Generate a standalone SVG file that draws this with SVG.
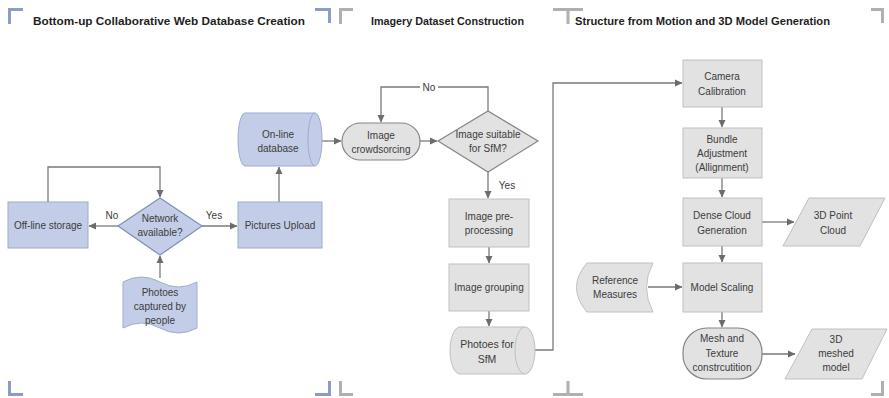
<svg xmlns="http://www.w3.org/2000/svg" width="889" height="398" viewBox="0 0 889 398">
<style>
.t{font-family:"Liberation Sans",Arial,sans-serif;font-size:10px;fill:#3c3c3c;text-anchor:middle}
.h{font-family:"Liberation Sans",Arial,sans-serif;font-size:10.5px;font-weight:bold;fill:#1e1e1e}
.blue{fill:#c3cde7;stroke:#9eabd0;stroke-width:1}
.bluek{fill:#c3cde7;stroke:#7f8fb8;stroke-width:1.2}
.grey{fill:#e2e2e2;stroke:#c0c0c0;stroke-width:1}
.greyk{fill:#e2e2e2;stroke:#858585;stroke-width:1.2}
.c{fill:none;stroke:#7a7a7a;stroke-width:1.3}
.bb{fill:none;stroke:#8c9cc4;stroke-width:3}
.bg{fill:none;stroke:#b0b0b0;stroke-width:3}
</style>
<defs>
<marker id="ah" markerWidth="8" markerHeight="8" refX="7" refY="4" orient="auto" markerUnits="userSpaceOnUse">
<path d="M0,0.5 L7.5,4 L0,7.5 Z" fill="#6c6c6c"/>
</marker>
</defs>
<rect width="889" height="398" fill="#ffffff"/>

<g id="frame">
<path class="bb" d="M9.5,24 V9.5 H23"/>
<path class="bb" d="M315,9.5 H329.5 V23"/>
<path class="bg" d="M340.5,24 V9.5 H353"/>
<path class="bg" d="M553,9.5 H583 M568,9.5 V24"/>
<path class="bg" d="M871,9.5 H882.5 V23"/>
<path class="bb" d="M9.5,381 V394.5 H23"/>
<path class="bb" d="M315,394.5 H329.5 V381"/>
<path class="bg" d="M340.5,381 V394.5 H353"/>
<path class="bg" d="M553,394.5 H583 M568,394.5 V381"/>
<path class="bg" d="M871,394.5 H882.5 V381"/>
<text class="h" x="33" y="25" textLength="272" lengthAdjust="spacingAndGlyphs">Bottom-up Collaborative Web Database Creation</text>
<text class="h" x="371" y="25" textLength="153" lengthAdjust="spacingAndGlyphs">Imagery Dataset Construction</text>
<text class="h" x="575" y="25" textLength="255" lengthAdjust="spacingAndGlyphs">Structure from Motion and 3D Model Generation</text>
</g>

<g id="connectors">
<path class="c" d="M48,202 V167 H160 V197" marker-end="url(#ah)"/>
<path class="c" d="M118,226 H89" marker-end="url(#ah)"/>
<path class="c" d="M202,226 H237" marker-end="url(#ah)"/>
<path class="c" d="M160,278 V256" marker-end="url(#ah)"/>
<path class="c" d="M279,202 V167" marker-end="url(#ah)"/>
<path class="c" d="M322,141 H341" marker-end="url(#ah)"/>
<path class="c" d="M420,141 H437" marker-end="url(#ah)"/>
<path class="c" d="M488,111 V87 H381 V122" marker-end="url(#ah)"/>
<path class="c" d="M488,172 V198" marker-end="url(#ah)"/>
<path class="c" d="M489,247 V263" marker-end="url(#ah)"/>
<path class="c" d="M489,311 V326" marker-end="url(#ah)"/>
<path class="c" d="M528,350 H553 V83 H682" marker-end="url(#ah)"/>
<path class="c" d="M722,107 V127" marker-end="url(#ah)"/>
<path class="c" d="M722,178 V197" marker-end="url(#ah)"/>
<path class="c" d="M762,222 H794" marker-end="url(#ah)"/>
<path class="c" d="M722,246 V262" marker-end="url(#ah)"/>
<path class="c" d="M648,287 H682" marker-end="url(#ah)"/>
<path class="c" d="M722,312 V327" marker-end="url(#ah)"/>
<path class="c" d="M762,354 H795" marker-end="url(#ah)"/>
<rect x="420" y="81" width="18" height="12" fill="#ffffff"/>
<text class="t" x="429" y="91">No</text>
<text class="t" x="112" y="219">No</text>
<text class="t" x="214" y="219">Yes</text>
<text class="t" x="507" y="189">Yes</text>
</g>

<g id="offline-storage">
<rect class="blue" x="8" y="202" width="80" height="46"/>
<text class="t" x="48" y="229">Off-line storage</text>
</g>
<g id="network-available">
<polygon class="bluek" points="118,226 160,198 202,226 160,255"/>
<text class="t" x="160" y="222">Network</text>
<text class="t" x="160" y="236">available?</text>
</g>
<g id="pictures-upload">
<rect class="blue" x="238" y="202" width="84" height="46"/>
<text class="t" x="280" y="229">Pictures Upload</text>
</g>
<g id="photoes-captured">
<path class="blue" d="M123,282 Q141.5,272 160,282 T197,282 L197,328 Q178.5,338 160,328 T123,328 Z"/>
<text class="t" x="160" y="296">Photoes</text>
<text class="t" x="160" y="310">captured by</text>
<text class="t" x="160" y="324">people</text>
</g>
<g id="online-database">
<path class="blue" d="M245,113 H315 A7,26.5 0 0 1 315,166 H245 A7,26.5 0 0 1 245,113 Z"/>
<path class="blue" fill="none" d="M315,113 A7,26.5 0 0 0 315,166"/>
<text class="t" x="278" y="138">On-line</text>
<text class="t" x="278" y="152">database</text>
</g>
<g id="image-crowdsorcing">
<rect class="greyk" x="342" y="123" width="78" height="37" rx="18.5" ry="18.5"/>
<text class="t" x="381" y="139">Image</text>
<text class="t" x="381" y="153">crowdsorcing</text>
</g>
<g id="image-suitable">
<polygon class="greyk" points="438,141 488,111 538,141 488,172"/>
<text class="t" x="488" y="138">Image suitable</text>
<text class="t" x="488" y="152">for SfM?</text>
</g>
<g id="image-preprocessing">
<rect class="grey" x="449" y="199" width="80" height="48"/>
<text class="t" x="489" y="220">Image pre-</text>
<text class="t" x="489" y="234">processing</text>
</g>
<g id="image-grouping">
<rect class="grey" x="449" y="264" width="80" height="47"/>
<text class="t" x="489" y="291">Image grouping</text>
</g>
<g id="photoes-for-sfm">
<path class="grey" d="M460,327 H525 A10,23.5 0 0 1 525,374 H460 A10,23.5 0 0 1 460,327 Z"/>
<path class="grey" fill="none" d="M525,327 A10,23.5 0 0 0 525,374"/>
<text class="t" x="487" y="348" style="font-size:10.5px">Photoes for</text>
<text class="t" x="487" y="363" style="font-size:10.5px">SfM</text>
</g>
<g id="camera-calibration">
<rect class="grey" x="683" y="60" width="79" height="47"/>
<text class="t" x="722" y="80">Camera</text>
<text class="t" x="722" y="95">Calibration</text>
</g>
<g id="bundle-adjustment">
<rect class="grey" x="683" y="128" width="79" height="50"/>
<text class="t" x="722" y="143">Bundle</text>
<text class="t" x="722" y="157">Adjustment</text>
<text class="t" x="722" y="171">(Allignment)</text>
</g>
<g id="dense-cloud">
<rect class="grey" x="683" y="198" width="79" height="48"/>
<text class="t" x="722" y="219">Dense Cloud</text>
<text class="t" x="722" y="234">Generation</text>
</g>
<g id="point-cloud">
<polygon class="grey" points="809,198 885,198 860,246 783,246"/>
<text class="t" x="833" y="219">3D Point</text>
<text class="t" x="833" y="234">Cloud</text>
</g>
<g id="reference-measures">
<path class="grey" d="M587,263 H653 Q640,287.5 653,312 H587 Q566,287.5 587,263 Z"/>
<text class="t" x="615" y="284">Reference</text>
<text class="t" x="615" y="298">Measures</text>
</g>
<g id="model-scaling">
<rect class="grey" x="683" y="263" width="79" height="49"/>
<text class="t" x="722" y="291">Model Scaling</text>
</g>
<g id="mesh-texture">
<rect class="greyk" x="683" y="328" width="79" height="51" rx="24" ry="24"/>
<text class="t" x="722" y="342">Mesh and</text>
<text class="t" x="722" y="357">Texture</text>
<text class="t" x="722" y="371">constrcutition</text>
</g>
<g id="meshed-model">
<polygon class="grey" points="812,329 887,329 862,379 785,379"/>
<text class="t" x="836" y="343">3D</text>
<text class="t" x="836" y="357">meshed</text>
<text class="t" x="836" y="371">model</text>
</g>
</svg>
